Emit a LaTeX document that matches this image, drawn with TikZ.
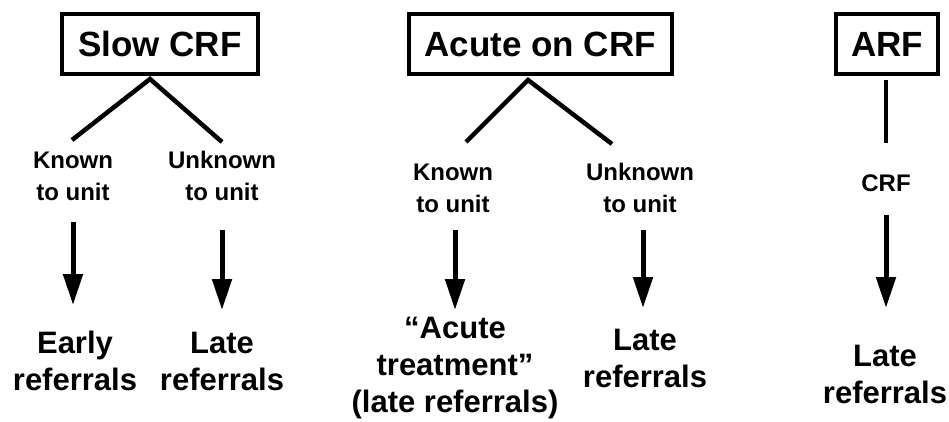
\documentclass[tikz,border=0pt]{standalone}
\usepackage{fontspec}
\setmainfont{Liberation Sans}
\usetikzlibrary{arrows.meta}
\begin{document}
\begin{tikzpicture}[x=1pt,y=-1pt,
  box/.style={draw,line width=4pt,minimum height=60pt,inner sep=0pt,font=\bfseries\fontsize{35}{38}\selectfont},
  big/.style={align=center,font=\bfseries\fontsize{31}{37}\selectfont,inner sep=0pt},
  small/.style={align=center,font=\bfseries\fontsize{24}{32}\selectfont,inner sep=0pt},
  conn/.style={line width=4.5pt},
  arr/.style={line width=5pt,-{Triangle[width=19pt,length=31pt]}}]
\path[use as bounding box] (0,0) rectangle (949,422);
% boxes
\node[box,minimum width=196pt] (slow) at (160,44) {Slow CRF};
\node[box,minimum width=263pt] (acute) at (540,44) {Acute on CRF};
\node[box,minimum width=102pt] (arf) at (887,44) {ARF};
% slow branch
\coordinate (sa) at (150,79);
\coordinate (sl) at (72,140);
\coordinate (sr) at (222,142);
\draw[conn] (sl) -- (sa) -- (sr);
\node[small] (sk) at (73,176) {Known\\to unit};
\node[small] (su) at (222,176) {Unknown\\to unit};
\coordinate (sk1) at (73,222); \coordinate (sk2) at (73,305);
\coordinate (su1) at (222,230); \coordinate (su2) at (222,310);
\draw[arr] (sk1) -- (sk2);
\draw[arr] (su1) -- (su2);
\node[big] (early) at (75,361) {Early\\referrals};
\node[big] (slate) at (222,361) {Late\\referrals};
% acute branch
\coordinate (aa) at (528,80);
\coordinate (al) at (466,142);
\coordinate (ar) at (612,144);
\draw[conn] (al) -- (aa) -- (ar);
\node[small] (ak) at (453,188) {Known\\to unit};
\node[small] (au) at (640,188) {Unknown\\to unit};
\coordinate (ak1) at (455,230); \coordinate (ak2) at (455,310);
\coordinate (au1) at (643,230); \coordinate (au2) at (643,308);
\draw[arr] (ak1) -- (ak2);
\draw[arr] (au1) -- (au2);
\node[big] (atreat) at (455,368) {“Acute\\treatment”\\(late referrals)};
\node[big] (alate) at (645,358) {Late\\referrals};
% ARF branch
\coordinate (f1) at (886,80);
\coordinate (f2) at (886,143);
\draw[conn] (f1) -- (f2);
\node[small] (fcrf) at (886,183) {CRF};
\coordinate (fa1) at (886,215); \coordinate (fa2) at (886,308);
\draw[arr] (fa1) -- (fa2);
\node[big] (flate) at (885,374) {Late\\referrals};
\end{tikzpicture}
\end{document}
